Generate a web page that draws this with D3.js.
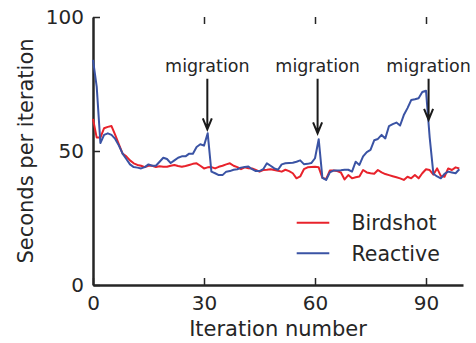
<!DOCTYPE html>
<html>
<head>
<meta charset="utf-8">
<script src="https://cdn.jsdelivr.net/npm/d3@7"></script>
<style>
  body { margin: 0; background: #fff; }
  text { font-family: "DejaVu Sans", sans-serif; fill: #262626; }
</style>
</head>
<body>
<div id="chart"></div>
<script>
// iteration index 0..99
const iterations = d3.range(100);

const birdshot = [
  62, 55, 55, 58.5, 59, 59.3, 56, 52.5, 49, 48,
  46.5, 45.4, 44.8, 44.5, 44, 44.5, 44.5, 44, 44.3, 44.1,
  44.1, 44.5, 44.8, 44.4, 44.1, 44.4, 44.8, 45.2, 45.4, 44.5,
  43.5, 43.9, 44, 43.5, 44.1, 44.5, 45, 45.4, 44.5, 44,
  43.2, 43.9, 43.6, 43.5, 42.9, 42.3, 42.9, 43, 43.2, 42.9,
  42.6, 42.3, 43, 42.5, 41.7, 39.8, 40.5, 43.2, 43.9, 44,
  44.1, 43.9, 40, 39.5, 42.7, 42.7, 42.5, 42, 39.4, 41,
  39.8, 40.2, 40.5, 42.9, 42, 41.7, 41.5, 42.9, 42, 41.4,
  41, 40.6, 40.2, 39.8, 39.2, 40.4, 39.8, 41, 39.8, 41.7,
  43.2, 42.9, 41.2, 43.5, 40.7, 40.4, 43.5, 42.9, 43.9, 43.5
];

const reactive = [
  84, 74, 53, 56, 56.6, 56, 54.5, 52, 49, 47,
  45, 44, 43.8, 43.5, 44, 45, 44.5, 44.5, 46, 47.5,
  47, 45.5, 46.5, 47.5, 48, 48, 49, 49, 51.5, 52.5,
  52, 56.6, 42.3, 41.7, 41, 41, 42.3, 42.5, 43, 43.2,
  43.8, 44, 44.2, 43.2, 42.5, 42.5, 43.2, 45.4, 44.5, 43.5,
  43, 45, 45.4, 45.5, 45.6, 46, 46.5, 45.1, 45.2, 45.5,
  47.3, 54.4, 40, 39.2, 42, 42.7, 42.7, 42.8, 43, 43,
  42.3, 46, 44.8, 48, 49.6, 50.4, 54, 54.5, 56, 54.7,
  59.3, 60, 60.6, 59.5, 63.4, 66, 69, 69.3, 69.7, 72,
  72.5, 55, 41.5, 40.5, 39.8, 41.5, 42.3, 42, 41.7, 43.2
];

const seriesNames = ["Birdshot", "Reactive"];
const seriesColors = ["#e8222b", "#3a53a4"];

const xTicks = [0, 30, 60, 90];
const yTicks = [0, 50, 100];

// migration annotations: arrow x, arrow tip y, arrow tail y, label y (data units)
const migrationX = [30.9, 60.7, 90.7];
const migrationTip = [58.1, 56.6, 61.6];
const migrationTail = 77;
const migrationLabelY = 79.6;

function linechart() {
  let margin = { top: 17, left: 93, right: 13, bottom: 58 },
    width = 476 - margin.left - margin.right,
    height = 343 - margin.top - margin.bottom,
    xScale = d3.scaleLinear(),
    yScale = d3.scaleLinear();

  function chart(selector) {
    let svg = d3.select(selector)
      .append("svg")
      .attr("width", width + margin.left + margin.right)
      .attr("height", height + margin.top + margin.bottom);

    let g = svg.append("g")
      .attr("transform", "translate(" + margin.left + "," + margin.top + ")");

    xScale.domain([0, 100]).range([0, width]);
    yScale.domain([0, 100]).range([height, 0]);

    // x axis, ticks pointing inward
    g.append("g")
      .attr("transform", "translate(0," + height + ")")
      .call(d3.axisBottom(xScale).tickValues(xTicks).tickSizeInner(-7).tickSizeOuter(0).tickPadding(11));

    // ticks along the top edge, no spine
    g.append("g")
      .call(d3.axisTop(xScale).tickValues(xTicks.slice(1)).tickSizeInner(-7).tickSizeOuter(0).tickFormat(""))
      .select(".domain").remove();

    g.append("g")
      .call(d3.axisLeft(yScale).tickValues(yTicks).tickSizeInner(-7).tickSizeOuter(0).tickPadding(9));

    g.selectAll(".domain").attr("stroke", "#262626").attr("stroke-width", 2.5);
    g.selectAll(".tick line").attr("stroke", "#262626").attr("stroke-width", 1.5);
    g.selectAll(".tick text")
      .style("font-size", "20px")
      .style("font-family", "DejaVu Sans")
      .attr("fill", "#262626");

    // axis titles
    svg.append("text")
      .attr("x", margin.left + width / 2)
      .attr("y", 336)
      .attr("text-anchor", "middle")
      .style("font-size", "21px")
      .text("Iteration number");

    svg.append("text")
      .attr("transform", "translate(33," + (margin.top + height / 2) + ") rotate(-90)")
      .attr("text-anchor", "middle")
      .style("font-size", "21px")
      .text("Seconds per iteration");

    let line = d3.line()
      .x((d, i) => xScale(iterations[i]))
      .y(d => yScale(d));

    [birdshot, reactive].forEach((values, k) => {
      g.append("path")
        .datum(values)
        .attr("fill", "none")
        .attr("stroke", seriesColors[k])
        .attr("stroke-width", 2)
        .attr("stroke-linejoin", "round")
        .attr("d", line);
    });

    // migration arrows
    migrationX.forEach((mx, i) => {
      let x = xScale(mx),
        tip = yScale(migrationTip[i]),
        tail = yScale(migrationTail);
      g.append("path")
        .attr("d", "M" + x + "," + tail + "L" + x + "," + tip +
          "M" + (x - 4.5) + "," + (tip - 11) + "L" + x + "," + tip + "L" + (x + 4.5) + "," + (tip - 11))
        .attr("fill", "none")
        .attr("stroke", "#1a1a1a")
        .attr("stroke-width", 2);
      g.append("text")
        .attr("x", x)
        .attr("y", yScale(migrationLabelY))
        .attr("text-anchor", "middle")
        .style("font-size", "17.5px")
        .text("migration");
    });

    // legend
    let legend = svg.append("g");
    seriesNames.forEach((name, k) => {
      let ly = 222.7 + k * 30.6;
      legend.append("line")
        .attr("x1", 296.7).attr("x2", 329.3)
        .attr("y1", ly).attr("y2", ly)
        .attr("stroke", seriesColors[k])
        .attr("stroke-width", 2);
      legend.append("text")
        .attr("x", 351.5)
        .attr("y", ly + 7.5)
        .style("font-size", "20.5px")
        .text(name);
    });
  }

  return chart;
}

linechart()("#chart");
</script>
</body>
</html>
